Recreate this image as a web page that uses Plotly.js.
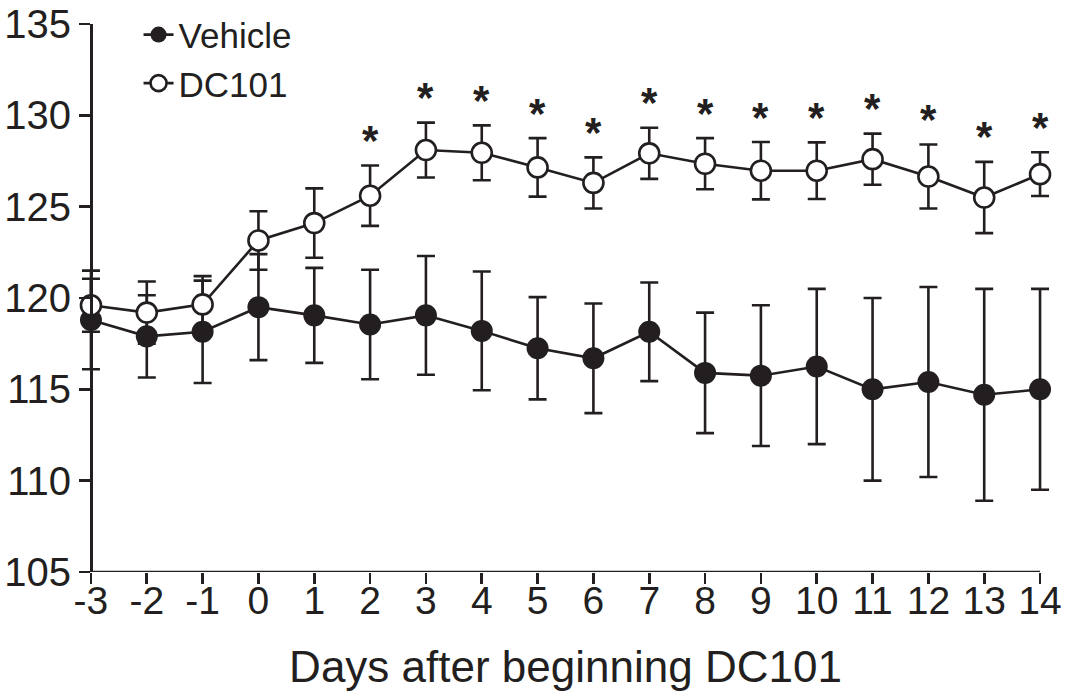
<!DOCTYPE html>
<html>
<head>
<meta charset="utf-8">
<script src="https://cdn.plot.ly/plotly-3.0.1.min.js"></script>
<style>html,body{margin:0;padding:0;background:#fff;}#chart{width:1074px;height:692px;}</style>
</head>
<body>
<div id="chart"></div>
<script>
const days = [-3, -2, -1, 0, 1, 2, 3, 4, 5, 6, 7, 8, 9, 10, 11, 12, 13, 14];
const vehicle = [118.8, 117.9, 118.15, 119.5, 119.05, 118.55, 119.05, 118.2, 117.25, 116.7, 118.15, 115.9, 115.75, 116.25, 115.0, 115.4, 114.7, 115.0];
const vehicleErr = [2.7, 2.25, 2.8, 2.9, 2.6, 3.0, 3.25, 3.25, 2.8, 3.0, 2.7, 3.3, 3.85, 4.25, 5.0, 5.2, 5.8, 5.5];
const dc101 = [119.6, 119.2, 119.65, 123.15, 124.1, 125.6, 128.1, 127.95, 127.15, 126.3, 127.92, 127.35, 126.97, 126.97, 127.6, 126.65, 125.5, 126.78];
const dc101Err = [1.45, 1.7, 1.55, 1.6, 1.9, 1.65, 1.5, 1.5, 1.6, 1.4, 1.4, 1.4, 1.57, 1.55, 1.4, 1.75, 1.95, 1.2];
const sigMarks = ["", "", "", "", "", "*", "*", "*", "*", "*", "*", "*", "*", "*", "*", "*", "*", "*"];
const yTicks = [105, 110, 115, 120, 125, 130, 135];

const ink = "#231f20";
const font = "'Liberation Sans', Arial, Helvetica, sans-serif";

const xMin = days[0], xMax = days[days.length - 1];
const xPad = 0.25;               // room so end caps are not clipped
const yMin = yTicks[0], yMax = yTicks[yTicks.length - 1];

const traces = [
  {
    x: days, y: vehicle, name: "Vehicle", type: "scatter", mode: "lines+markers", cliponaxis: false,
    line: {color: ink, width: 2.6},
    marker: {symbol: "circle", size: 22, color: ink, line: {color: ink, width: 0}},
    error_y: {type: "data", array: vehicleErr, visible: true, color: ink, thickness: 2.6, width: 9}
  },
  {
    x: days, y: dc101, name: "DC101", type: "scatter", mode: "lines+markers", cliponaxis: false,
    line: {color: ink, width: 2.6},
    marker: {symbol: "circle", size: 20, color: "#ffffff", line: {color: ink, width: 2.6}},
    error_y: {type: "data", array: dc101Err, visible: true, color: ink, thickness: 2.6, width: 9}
  }
];

const annotations = [];
days.forEach((d, i) => {
  if (sigMarks[i]) {
    annotations.push({
      x: d, y: dc101[i] + dc101Err[i], xref: "x", yref: "y",
      text: "<b>" + sigMarks[i] + "</b>", showarrow: false, yanchor: "middle", yshift: 25,
      font: {family: font, size: 42, color: ink}
    });
  }
});

const span = (xMax - xMin) + 2 * xPad;

const layout = {
  width: 1074, height: 692,
  margin: {l: 77, r: 20, t: 24, b: 120, autoexpand: false},
  paper_bgcolor: "#ffffff", plot_bgcolor: "#ffffff",
  showlegend: true,
  legend: {x: 0.063, y: 1.034, xanchor: "left", yanchor: "top", bgcolor: "rgba(0,0,0,0)",
           font: {family: font, size: 35, color: ink}, tracegroupgap: 0, itemsizing: "trace"},
  xaxis: {
    range: [xMin - xPad, xMax + xPad], tickmode: "array", tickvals: days, ticktext: days.map(String),
    automargin: false, showgrid: false, zeroline: false, showline: false,
    ticks: "outside", ticklen: 11, tickwidth: 2.6, tickcolor: ink, ticklabelstandoff: -17,
    tickfont: {family: font, size: 39, color: ink},
    title: {text: "Days after beginning DC101", font: {family: font, size: 44, color: ink}, standoff: 30}
  },
  yaxis: {
    range: [yMin, yMax], tickmode: "array", tickvals: yTicks,
    anchor: "free", position: xPad / span, automargin: false,
    showgrid: false, zeroline: false, showline: true, linecolor: ink, linewidth: 2.6,
    ticks: "outside", ticklen: 11, tickwidth: 2.6, tickcolor: ink,
    tickfont: {family: font, size: 40, color: ink}
  },
  shapes: [
    {type: "line", xref: "x", yref: "y", x0: xMin, x1: xMax, y0: yMin, y1: yMin,
     line: {color: ink, width: 2.6}, layer: "below"}
  ],
  annotations: annotations
};

Plotly.newPlot("chart", traces, layout, {displayModeBar: false, staticPlot: true});
</script>
</body>
</html>
